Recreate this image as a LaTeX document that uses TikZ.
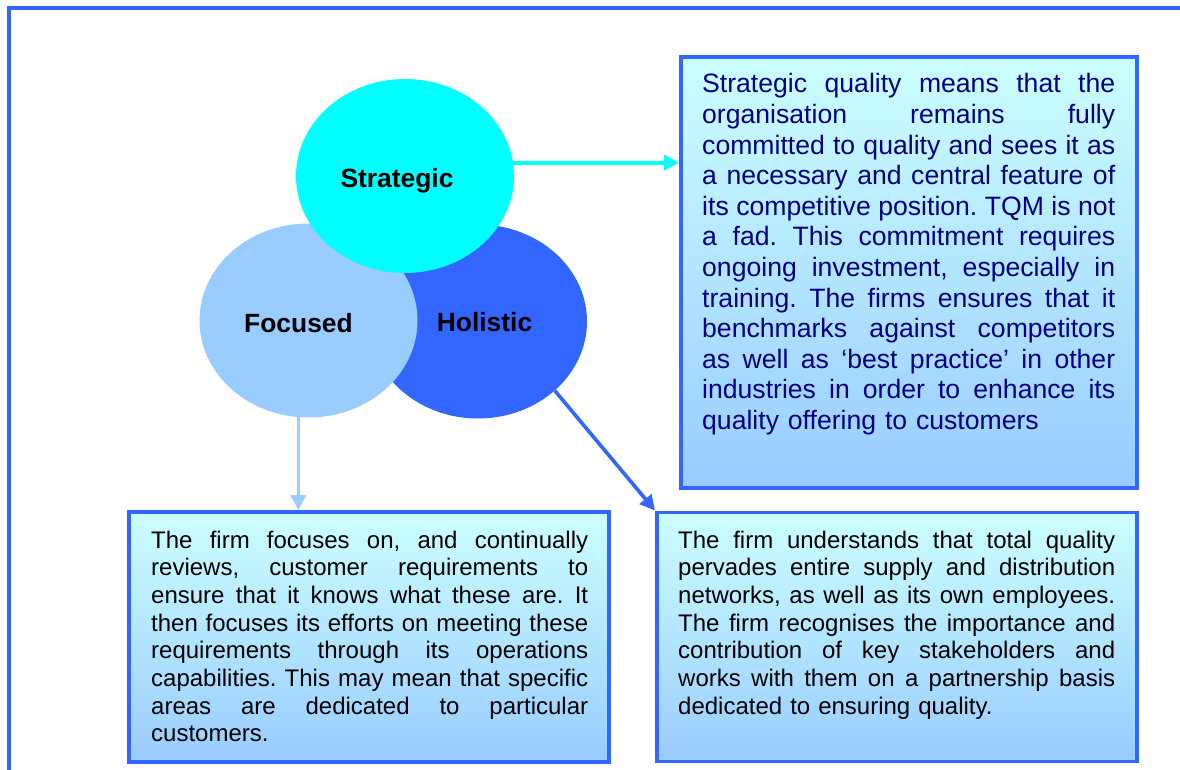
\documentclass[tikz,border=0pt]{standalone}
\usepackage{fontspec}
\setmainfont{Liberation Sans}
\usetikzlibrary{shapes.geometric,arrows.meta}
\definecolor{frameblue}{HTML}{3366FF}
\definecolor{aqua}{HTML}{00FFFF}
\definecolor{paleblue}{HTML}{99CCFF}
\definecolor{paleaqua}{HTML}{CCFFFF}
\definecolor{navytext}{HTML}{000080}
% one fully justified line of a panel text: every word space stretches equally
\newcommand{\fullline}[1]{\makebox[\linewidth][s]{\frenchspacing
  \spaceskip=0.278em plus 1fil minus 0.08em\xspaceskip=\spaceskip #1}}
\begin{document}
\begin{tikzpicture}[x=1pt,y=-1pt,
  disc/.style={ellipse, inner sep=0pt, minimum width=218pt, minimum height=194pt},
  disclabel/.style={anchor=base, inner sep=0pt, text=black, font=\fontsize{26.4}{30}\selectfont\bfseries},
  panel/.style={draw=frameblue, line width=3.6pt, top color=paleaqua, bottom color=paleblue, inner sep=0pt, anchor=north west},
  bigtext/.style={anchor=base west, inner sep=0pt, text width=413pt, align=left, text=navytext, font=\fontsize{26.6}{30.6}\selectfont},
  smalltext/.style={anchor=base west, inner sep=0pt, text width=437pt, align=left, text=black, font=\fontsize{24}{27.7}\selectfont},
  link/.style={line width=3.6pt, -{Triangle[length=15pt,width=15pt]}},
]
\useasboundingbox (0,0) rectangle (1180,770);
\clip (0,0) rectangle (1180,770);

% outer frame, running off the right and bottom edges
\draw[frameblue, line width=4pt] (9,8) rectangle (1200,800);

% text panels
\node[panel, minimum width=456pt, minimum height=431pt] (sbox) at (679,55) {};
\node[panel, minimum width=480pt, minimum height=250pt] (fbox) at (127,510) {};
\node[panel, minimum width=480pt, minimum height=249pt] (hbox) at (655,510.5) {};

% the three overlapping discs
\node[disc, fill=frameblue] (holi) at (478,321.5) {};
\node[disc, fill=paleblue] (focu) at (308.5,320.5) {};
\node[disc, fill=aqua] (strat) at (405,176) {};

\node[disclabel] (stratlbl) at (397,188) {Strategic};
\node[disclabel] (foculbl) at (298.5,332) {Focused};
\node[disclabel] (holilbl) at (484.5,331) {Holistic};

% connectors
\draw[link, aqua] (strat.7) -- (strat.7 -| sbox.west);
\draw[link, paleblue] (focu.264) -- (focu.264 |- fbox.north);
\draw[link, frameblue] (holi.318) -- (hbox.north west);

% panel texts
\node[bigtext] (stext) at (702,93) {%
\fullline{Strategic quality means that the}\\
\fullline{organisation remains fully}\\
\fullline{committed to quality and sees it as}\\
\fullline{a necessary and central feature of}\\
\fullline{its competitive position. TQM is not}\\
\fullline{a fad. This commitment requires}\\
\fullline{ongoing investment, especially in}\\
\fullline{training. The firms ensures that it}\\
\fullline{benchmarks against competitors}\\
\fullline{as well as ‘best practice’ in other}\\
\fullline{industries in order to enhance its}\\
quality offering to customers};

\node[smalltext] (ftext) at (151,548) {%
\fullline{The firm focuses on, and continually}\\
\fullline{reviews, customer requirements to}\\
\fullline{ensure that it knows what these are. It}\\
\fullline{then focuses its efforts on meeting these}\\
\fullline{requirements through its operations}\\
\fullline{capabilities. This may mean that specific}\\
\fullline{areas are dedicated to particular}\\
customers.};

\node[smalltext] (htext) at (678,548) {%
\fullline{The firm understands that total quality}\\
\fullline{pervades entire supply and distribution}\\
\fullline{networks, as well as its own employees.}\\
\fullline{The firm recognises the importance and}\\
\fullline{contribution of key stakeholders and}\\
\fullline{works with them on a partnership basis}\\
dedicated to ensuring quality.};
\end{tikzpicture}
\end{document}
